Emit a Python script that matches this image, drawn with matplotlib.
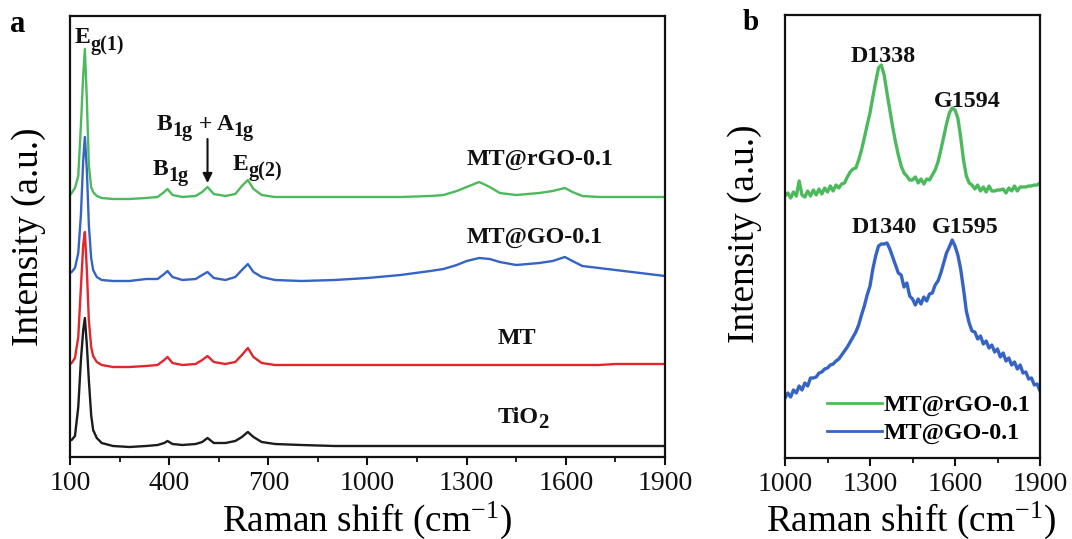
import matplotlib
matplotlib.use("Agg")
import matplotlib.pyplot as plt
from matplotlib.ticker import FixedLocator
from matplotlib.transforms import offset_copy

plt.rcParams['font.family'] = ['Liberation Serif', 'DejaVu Serif']
plt.rcParams['mathtext.fontset'] = 'custom'
plt.rcParams['mathtext.rm'] = 'Liberation Serif'
plt.rcParams['mathtext.it'] = 'Liberation Serif:italic'
plt.rcParams['mathtext.bf'] = 'Liberation Serif:bold'

# ---- panel a: full Raman spectra (stacked, arbitrary units) ----
shift_a = [100, 105, 115, 125, 133, 140, 145, 151, 157, 164, 170, 181, 196, 230, 280, 330,
           365, 385, 395, 410, 440, 480, 500, 516, 535, 570, 600, 620, 638, 655, 680, 720,
           800, 900, 1000, 1100, 1190, 1230, 1270, 1300, 1338, 1370, 1400, 1450, 1520, 1560,
           1597, 1620, 1650, 1700, 1750, 1800, 1850, 1900]

tio2 = [17, 17, 21, 50, 97, 127, 139, 112, 77, 42, 27, 19, 14, 11, 10, 11,
        12, 14, 16, 13, 12, 13, 15, 19, 14, 14, 16, 20, 25, 20, 15, 13,
        12, 11, 11, 11, 11, 11, 11, 11, 11, 11, 11, 11, 11, 11,
        11, 11, 11, 11, 11, 11, 11, 11]

mt = [93, 94, 99, 120, 170, 212, 225, 187, 137, 110, 101, 95, 92, 90, 90, 91,
      92, 97, 100, 94, 92, 93, 97, 101, 95, 93, 95, 102, 109, 100, 94, 92,
      92, 92, 92, 92, 92, 92, 92, 92, 92, 92, 92, 92, 92, 92,
      92, 92, 92, 92, 93, 93, 93, 93]

mt_go = [184, 185, 189, 204, 242, 297, 320, 287, 232, 199, 187, 180, 177, 176, 176, 178,
         178, 183, 186, 180, 177, 178, 182, 185, 179, 177, 180, 187, 193, 185, 180, 177,
         176, 177, 179, 182, 186, 188, 192, 196, 199, 198, 195, 192, 194, 196,
         200, 196, 191, 189, 187, 185, 183, 181]

mt_rgo = [262, 264, 269, 281, 332, 382, 408, 357, 292, 270, 265, 261, 259, 258, 258, 259,
          260, 265, 268, 262, 260, 261, 265, 270, 263, 261, 263, 271, 277, 268, 262, 260,
          260, 260, 260, 260, 261, 262, 266, 270, 275, 270, 264, 262, 264, 266,
          269, 265, 261, 260, 260, 260, 260, 260]

# ---- panel b: D/G band region (stacked, arbitrary units) ----
shift_b = [1000, 1010, 1020, 1030, 1040, 1050, 1060, 1070, 1080, 1090,
           1100, 1110, 1120, 1130, 1140, 1150, 1160, 1170, 1180, 1190,
           1200, 1210, 1220, 1230, 1240, 1250, 1260, 1270, 1280, 1290,
           1300, 1310, 1320, 1330, 1340, 1350, 1360, 1370, 1380, 1390,
           1400, 1410, 1420, 1430, 1440, 1450, 1460, 1470, 1480, 1490,
           1500, 1510, 1520, 1530, 1540, 1550, 1560, 1570, 1580, 1590,
           1600, 1610, 1620, 1630, 1640, 1650, 1660, 1670, 1680, 1690,
           1700, 1710, 1720, 1730, 1740, 1750, 1760, 1770, 1780, 1790,
           1800, 1810, 1820, 1830, 1840, 1850, 1860, 1870, 1880, 1890, 1900]

rgo_b = [262, 265, 260, 266, 262, 277, 263, 261, 267, 262,
         268, 263, 269, 264, 270, 266, 272, 267, 273, 270,
         274, 275, 281, 286, 289, 290, 298, 308, 320, 333,
         345, 361, 376, 390, 393, 383, 365, 348, 331, 316,
         303, 292, 285, 282, 278, 278, 281, 275, 279, 274,
         279, 278, 283, 288, 296, 308, 321, 334, 345, 350,
         348, 340, 321, 298, 282, 275, 273, 269, 273, 267,
         271, 266, 272, 267, 267, 268, 268, 269, 265, 270,
         267, 272, 267, 271, 271, 271, 272, 272, 273, 273, 275]

go_b = [60, 65, 61, 68, 65, 72, 68, 75, 72, 80,
        80, 81, 85, 86, 89, 90, 93, 94, 97, 99,
        103, 107, 111, 116, 121, 126, 133, 143, 152, 163,
        172, 189, 202, 212, 214, 214, 215, 209, 201, 193,
        185, 183, 171, 175, 162, 159, 153, 159, 154, 161,
        157, 164, 165, 173, 177, 185, 195, 205, 211, 218,
        212, 203, 189, 169, 147, 135, 127, 126, 119, 122,
        114, 117, 110, 113, 106, 109, 101, 105, 97, 100,
        93, 96, 89, 93, 85, 86, 79, 80, 73, 74, 67]

GREEN = '#4cba5c'
BLUE = '#3564c4'
RED = '#e2262b'
BLACK = '#1c1c1c'
INK = '#111111'

fig = plt.figure(figsize=(10.72, 5.39), dpi=100)
ax1 = fig.add_axes([70 / 1072, 1 - 457 / 539, 595 / 1072, 441 / 539])
ax2 = fig.add_axes([785 / 1072, 1 - 458 / 539, 255 / 1072, 443 / 539])
renderer = fig.canvas.get_renderer()


def rich_label(ax, x, y, pieces, size=17, subsize=14.5, drop=6, ha='left'):
    """Bold label made of normal and subscript runs, placed at a data point."""
    texts = []
    for s, sub in pieces:
        t = ax.text(x, y, s, fontsize=subsize if sub else size, fontweight='bold',
                    va='baseline', ha='left', color=INK)
        texts.append((t, sub))
    widths = [t.get_window_extent(renderer).width for t, _ in texts]
    start = -sum(widths) / 2 if ha == 'center' else 0.0
    pos = start
    for (t, sub), w in zip(texts, widths):
        t.set_transform(offset_copy(ax.transData, fig=fig, x=pos,
                                    y=-drop if sub else 0, units='dots'))
        pos += w


for ax in (ax1, ax2):
    for sp in ax.spines.values():
        sp.set_linewidth(1.6)
        sp.set_color(INK)
    ax.set_yticks([])
    ax.tick_params(axis='x', which='major', direction='out', length=6, width=1.5,
                   labelsize=20, pad=4, colors=INK)
    ax.tick_params(axis='x', which='minor', direction='out', length=3.5, width=1.3,
                   colors=INK)

lw = 1.7
ax1.plot(shift_a, tio2, color=BLACK, lw=lw)
ax1.plot(shift_a, mt, color=RED, lw=lw)
ax1.plot(shift_a, mt_go, color=BLUE, lw=lw)
ax1.plot(shift_a, mt_rgo, color=GREEN, lw=lw)
ax1.set_xlim(100, 1900)
ax1.set_ylim(0, 441)
ax1.xaxis.set_major_locator(FixedLocator([100, 400, 700, 1000, 1300, 1600, 1900]))
ax1.xaxis.set_minor_locator(FixedLocator([250, 550, 850, 1150, 1450, 1750]))

xl = r"Raman shift (cm$^{\mathregular{-1}}$)"
ax1.set_xlabel(xl, fontsize=26.8, va='center')
ax1.xaxis.set_label_coords(0.499, -0.143)
ax1.set_ylabel("Intensity (a.u.)", fontsize=26.8, va='center')
ax1.yaxis.set_label_coords(-0.070, 0.50)

bold = dict(fontweight='bold', fontsize=17.3, color=INK)
rich_label(ax1, 115, 414, [("E", False), ("g(1)", True)], drop=7)
rich_label(ax1, 351, 282, [("B", False), ("1g", True)])
rich_label(ax1, 363, 327, [("B", False), ("1g", True), (" + A", False), ("1g", True)])
rich_label(ax1, 593, 287, [("E", False), ("g(2)", True)])
ax1.annotate("", xy=(516, 274), xytext=(516, 318),
             arrowprops=dict(arrowstyle='-|>', color=INK, lw=1.5,
                             mutation_scale=14, shrinkA=0, shrinkB=0))
ax1.text(1522, 292, "MT@rGO-0.1", ha='center', va='baseline', **bold)
ax1.text(1507, 214, "MT@GO-0.1", ha='center', va='baseline', **bold)
ax1.text(1452, 113, "MT", ha='center', va='baseline', **bold)
rich_label(ax1, 1470, 34, [("TiO", False), ("2", True)], size=17.3, subsize=15,
           drop=5, ha='center')

ax2.plot(shift_b, rgo_b, color=GREEN, lw=2.4, label="MT@rGO-0.1")
ax2.plot(shift_b, go_b, color=BLUE, lw=2.4, label="MT@GO-0.1")
ax2.set_xlim(1000, 1900)
ax2.set_ylim(0, 443)
ax2.xaxis.set_major_locator(FixedLocator([1000, 1300, 1600, 1900]))
ax2.xaxis.set_minor_locator(FixedLocator([1150, 1450, 1750]))
ax2.set_xlabel(xl, fontsize=26.8, va='center')
ax2.xaxis.set_label_coords(0.494, -0.14)
ax2.set_ylabel("Intensity (a.u.)", fontsize=26.8, va='center')
ax2.yaxis.set_label_coords(-0.157, 0.506)

ax2.text(1346, 396, "D1338", ha='center', va='baseline', **bold)
ax2.text(1642, 351, "G1594", ha='center', va='baseline', **bold)
ax2.text(1349, 225, "D1340", ha='center', va='baseline', **bold)
ax2.text(1635, 225, "G1595", ha='center', va='baseline', **bold)

leg = ax2.legend(loc='lower left', bbox_to_anchor=(0.145, 0.02), frameon=False,
                 prop=dict(family='Liberation Serif', weight='bold', size=17.3),
                 handlelength=2.3, handletextpad=0.05, labelspacing=0.25,
                 borderaxespad=0.0, borderpad=0.2)
for h in leg.get_lines():
    h.set_linewidth(2.0)

fig.text(18 / 1072, 1 - 25 / 539, "a", fontsize=22, fontweight='bold', ha='center', va='center')
fig.text(751 / 1072, 1 - 23 / 539, "b", fontsize=21, fontweight='bold', ha='center', va='center')

fig.savefig("out.png", dpi=100)
